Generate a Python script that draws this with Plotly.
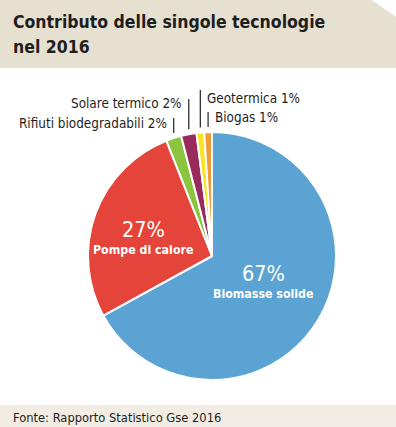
import math
import plotly.graph_objects as go

# ---- data ----
labels = ["Biomasse solide", "Pompe di calore", "Rifiuti biodegradabili",
          "Solare termico", "Geotermica", "Biogas"]
values = [67, 27, 2, 2, 1, 1]
colors = ["#5BA3D3", "#E5443A", "#8CC43F", "#982A5E", "#FBE320", "#F29A36"]
title_lines = ["Contributo delle singole tecnologie", "nel 2016"]
source = "Fonte: Rapporto Statistico Gse 2016"

W, H = 396, 427
CX, CY, R = 212, 256, 124
FONT = "DejaVu Sans Condensed, DejaVu Sans, sans-serif"

def px(x):
    return x / W

def py(y):
    return 1 - y / H

def f(size, color="#1E1E1E"):
    return dict(family=FONT, size=size, color=color)

def cond(t, bold=False):
    t = f"<b>{t}</b>" if bold else t
    return f"<span style='font-stretch:condensed'>{t}</span>"

fig = go.Figure(go.Pie(
    labels=labels, values=values, sort=False, direction="clockwise",
    rotation=0, marker=dict(colors=colors, line=dict(color="white", width=2)),
    textinfo="none", hoverinfo="label+percent", showlegend=False,
    domain=dict(x=[px(CX - R), px(CX + R)], y=[py(CY + R), py(CY - R)]),
))

shapes = [
    dict(type="rect", xref="paper", yref="paper", x0=0, x1=1, y0=py(68), y1=1,
         fillcolor="#E6E0D1", line_width=0, layer="below"),
    dict(type="path", xref="paper", yref="paper",
         path=f"M {px(372)} 1 L 1 1 L 1 {py(17)} Z",
         fillcolor="white", line_width=0, layer="below"),
    dict(type="rect", xref="paper", yref="paper", x0=0, x1=1, y0=0, y1=py(405),
         fillcolor="#F1EDE5", line_width=0, layer="below"),
]

annotations = []
# title
for i, t in enumerate(title_lines):
    annotations.append(dict(text=cond(t, True), x=px(11), y=py(22 + 25 * i),
                            xref="paper", yref="paper", xanchor="left", yanchor="middle",
                            showarrow=False, font=f(17.5)))
annotations.append(dict(text=cond(source), x=px(11), y=py(417), xref="paper", yref="paper",
                        xanchor="left", yanchor="middle", showarrow=False, font=f(12.8)))

# inside labels
inside_pos = {0: (263, 273), 1: (143, 229)}
for i, (x, y) in inside_pos.items():
    annotations.append(dict(text=cond(f"{values[i]}%"), x=px(x), y=py(y), xref="paper", yref="paper",
                            xanchor="center", yanchor="middle", showarrow=False,
                            font=f(21.5, "white")))
    annotations.append(dict(text=cond(labels[i], True), x=px(x), y=py(y + 21), xref="paper",
                            yref="paper", xanchor="center", yanchor="middle", showarrow=False,
                            font=f(12.3, "white")))

# outside labels with leader lines
total = sum(values)
cum = 0
mids = []
for v in values:
    mids.append((cum + v / 2) / total * 2 * math.pi)
    cum += v
outside = {2: (118, 123, "right"), 3: (99, 103, "right"), 4: (90, 98, "left"), 5: (112, 118, "left")}
for i, (ltop, ty, side) in outside.items():
    a = mids[i]
    lx = CX + R * math.sin(a)
    lb = CY - R * math.cos(a) - 5
    shapes.append(dict(type="line", xref="paper", yref="paper", x0=px(lx), x1=px(lx),
                       y0=py(lb), y1=py(ltop), line=dict(color="#333", width=1.3)))
    tx = lx - 5 if side == "right" else lx + 5
    annotations.append(dict(text=cond(f"{labels[i]} {values[i]}%"), x=px(tx), y=py(ty), xref="paper",
                            yref="paper", xanchor=side, yanchor="middle", showarrow=False,
                            font=f(13.4)))

fig.update_layout(width=W, height=H, margin=dict(l=0, r=0, t=0, b=0),
                  paper_bgcolor="white", plot_bgcolor="white",
                  shapes=shapes, annotations=annotations)
fig.write_html("out.html", config={"displayModeBar": False},
               post_script="document.body.style.margin='0';")
